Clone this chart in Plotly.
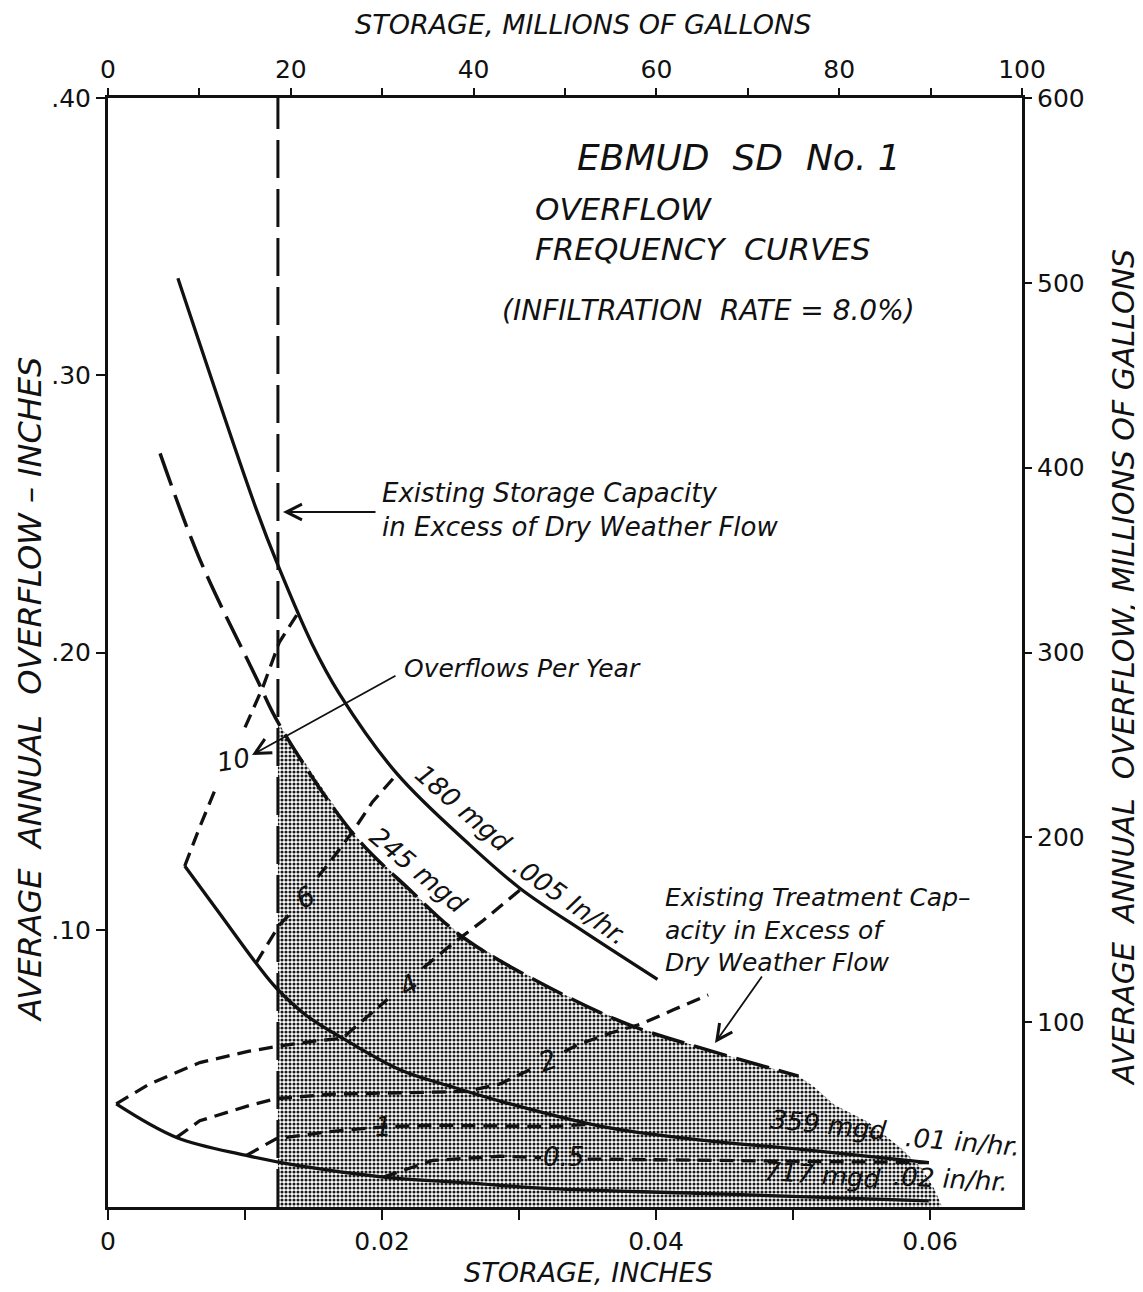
import plotly.graph_objects as go

# ---------------- axis ticks ----------------
x_in_ticks = [0, 0.01, 0.02, 0.03, 0.04, 0.05, 0.06]
x_in_labels = ['0', '', '0.02', '', '0.04', '', '0.06']
x_mg_ticks = [0, 10, 20, 30, 40, 50, 60, 70, 80, 90, 100]
x_mg_labels = ['0', '', '20', '', '40', '', '60', '', '80', '', '100']
y_in_ticks = [0.10, 0.20, 0.30, 0.40]
y_in_labels = ['.10', '.20', '.30', '.40']
y_mg_ticks = [100, 200, 300, 400, 500, 600]
y_mg_labels = ['100', '200', '300', '400', '500', '600']

# ---------------- data (storage in inches, overflow in inches) ----------------
existing_storage = 0.0124

cap_180_x = [0.0051, 0.0108, 0.0124, 0.0149, 0.0169, 0.0211, 0.0264, 0.0301, 0.0347, 0.0401]
cap_180_y = [0.335, 0.252, 0.2315, 0.2030, 0.1850, 0.1562, 0.1306, 0.1148, 0.0994, 0.0821]

cap_245_x = [0.0038, 0.0067, 0.0108, 0.0125, 0.0179, 0.0220, 0.0259, 0.0323, 0.0381, 0.0438, 0.0504]
cap_245_y = [0.2718, 0.2336, 0.1911, 0.1740, 0.1346, 0.1145, 0.0973, 0.0789, 0.0656, 0.0566, 0.0472]

cap_359_x = [0.0056, 0.0082, 0.0108, 0.0123, 0.0145, 0.0171, 0.0213, 0.0250, 0.0286, 0.0359, 0.0433, 0.0506, 0.0599]
cap_359_y = [0.1230, 0.1055, 0.0880, 0.0789, 0.0690, 0.0609, 0.0495, 0.0435, 0.0382, 0.0292, 0.0241, 0.0208, 0.0160]

cap_717_x = [0.0006, 0.0050, 0.0101, 0.0140, 0.0201, 0.0262, 0.0323, 0.0433, 0.0599]
cap_717_y = [0.0372, 0.0251, 0.0186, 0.0148, 0.0108, 0.0087, 0.0066, 0.0049, 0.0022]

# overflows-per-year curves (None = gap left for the hand-lettered label)
freq_10_x = [0.0056, 0.0067, 0.0079, None, 0.0100, 0.0113, 0.0125, 0.0138]
freq_10_y = [0.1230, 0.1371, 0.1515, None, 0.1730, 0.1875, 0.2037, 0.2137]

freq_6_x = [0.0108, 0.0125, 0.0134, None, 0.0153, 0.0160, 0.0179, 0.0193, 0.0211]
freq_6_y = [0.0880, 0.1017, 0.1063, None, 0.1190, 0.1232, 0.1357, 0.1461, 0.1562]

freq_4_x = [0.0006, 0.0030, 0.0067, 0.0103, 0.0123, 0.0152, 0.0171, 0.0204, None, 0.0230, 0.0252, 0.0274, 0.0301]
freq_4_y = [0.0372, 0.0443, 0.0521, 0.0562, 0.0579, 0.0599, 0.0609, 0.0749, None, 0.0862, 0.0952, 0.1034, 0.1145]

freq_2_x = [0.0050, 0.0067, 0.0103, 0.0123, 0.0164, 0.0213, 0.0262, 0.0286, 0.0310, None, 0.0333, 0.0343, 0.0369, 0.0389, 0.0413, 0.0438]
freq_2_y = [0.0251, 0.0311, 0.0366, 0.0391, 0.0407, 0.0412, 0.0417, 0.0444, 0.0500, None, 0.0560, 0.0586, 0.0631, 0.0660, 0.0712, 0.0765]

freq_1_x = [0.0101, 0.0123, 0.0164, 0.0201, 0.0237, 0.0323, 0.0352]
freq_1_y = [0.0186, 0.0247, 0.0273, 0.0289, 0.0295, 0.0290, 0.0298]

freq_05_x = [0.0201, 0.0237, 0.0286, 0.0316, None, 0.0350, 0.0433, 0.0599]
freq_05_y = [0.0108, 0.0168, 0.0183, 0.0178, None, 0.0173, 0.0168, 0.0160]

# shaded zone: beyond existing storage, below the 245 mgd curve
shade_x = [0.0124, 0.0124, 0.0125, 0.0179, 0.0220, 0.0259, 0.0323, 0.0381, 0.0438, 0.0504,
           0.0515, 0.0530, 0.0555, 0.0579, 0.0594, 0.0603, 0.0608, 0.0608]
shade_y = [0.0, 0.1755, 0.1740, 0.1346, 0.1145, 0.0973, 0.0789, 0.0656, 0.0566, 0.0472,
           0.0435, 0.0369, 0.0306, 0.0211, 0.0138, 0.0065, 0.0010, 0.0]

INK = '#111111'
FONT = 'DejaVu Sans'

fig = go.Figure()

fig.add_trace(go.Scatter(
    x=shade_x, y=shade_y, mode='lines', fill='toself',
    line=dict(width=0, color='rgba(0,0,0,0)'),
    fillcolor='rgba(0,0,0,0)',
    fillpattern=dict(shape='.', size=4, solidity=0.48, fgcolor='#1a1a1a', bgcolor='white', fillmode='replace'),
    hoverinfo='skip', showlegend=False))

fig.add_trace(go.Scatter(
    x=[existing_storage, existing_storage], y=[0, y_in_ticks[-1]], mode='lines',
    line=dict(color=INK, width=3, dash='38px,11px'), hoverinfo='skip', showlegend=False))

for xs, ys in [(cap_180_x, cap_180_y), (cap_359_x, cap_359_y), (cap_717_x, cap_717_y)]:
    fig.add_trace(go.Scatter(x=xs, y=ys, mode='lines',
                             line=dict(color=INK, width=3.3, shape='spline', smoothing=1.0),
                             hoverinfo='skip', showlegend=False))

fig.add_trace(go.Scatter(x=cap_245_x, y=cap_245_y, mode='lines',
                         line=dict(color=INK, width=3.5, shape='spline', smoothing=1.0, dash='34px,10px'),
                         hoverinfo='skip', showlegend=False))

for xs, ys in [(freq_10_x, freq_10_y), (freq_6_x, freq_6_y), (freq_4_x, freq_4_y),
               (freq_2_x, freq_2_y), (freq_1_x, freq_1_y), (freq_05_x, freq_05_y)]:
    fig.add_trace(go.Scatter(x=xs, y=ys, mode='lines', connectgaps=False,
                             line=dict(color=INK, width=3.3, dash='14px,8px'),
                             hoverinfo='skip', showlegend=False))

# invisible trace to carry the secondary (top / right) axes
fig.add_trace(go.Scatter(x=x_mg_ticks, y=[y_mg_ticks[0]] * len(x_mg_ticks), xaxis='x2', yaxis='y2',
                         mode='markers', marker=dict(opacity=0), hoverinfo='skip', showlegend=False))

tickfont = dict(family=FONT, size=25, color=INK)
axis_common = dict(showline=True, linewidth=3, linecolor=INK, showgrid=False, zeroline=False,
                   ticks='outside', tickwidth=2, tickcolor=INK, tickfont=tickfont)

# the page adds an 8 px body margin, so the figure is 8 px smaller and margins shifted
fig.update_layout(
    width=1135, height=1284,
    margin=dict(l=100, r=121, t=90, b=85),
    paper_bgcolor='white', plot_bgcolor='white',
    font=dict(family=FONT, color=INK),
    xaxis=dict(range=[0, 0.0667], tickmode='array', tickvals=x_in_ticks, ticktext=x_in_labels,
               ticklen=10, **axis_common),
    xaxis2=dict(range=[0, 100], overlaying='x', side='top', anchor='y', tickmode='array',
                tickvals=x_mg_ticks, ticktext=x_mg_labels, ticklen=7, **axis_common),
    yaxis=dict(range=[0, 0.40], tickmode='array', tickvals=y_in_ticks, ticktext=y_in_labels,
               ticklen=9, **axis_common),
    yaxis2=dict(range=[0, 600], overlaying='y', side='right', anchor='x', tickmode='array',
                tickvals=y_mg_ticks, ticktext=y_mg_labels, ticklen=7, **axis_common),
)

# positions below are page pixels of the reference; plot area spans 108..1022 x 98..1207
W, H, L, B = 914, 1109, 108, 1207
def xp(px):
    return (px - L) / W
def yp(py):
    return (B - py) / H

def note(text, px, py, size=23, angle=0, xanchor='center', yanchor='middle', align='left'):
    fig.add_annotation(text=text, x=xp(px), y=yp(py), xref='paper', yref='paper',
                       showarrow=False, textangle=angle, xanchor=xanchor, yanchor=yanchor,
                       align=align, font=dict(family=FONT, size=size, color=INK))

def arrow(px_tip, py_tip, px_tail, py_tail):
    fig.add_annotation(text='', x=xp(px_tip), y=yp(py_tip), xref='paper', yref='paper',
                       showarrow=True, ax=px_tail - px_tip, ay=py_tail - py_tip,
                       arrowhead=5, arrowsize=1.7, arrowwidth=1.8, arrowcolor=INK)

# axis titles
note('<i>STORAGE, MILLIONS OF GALLONS</i>', 583, 25, size=27)
note('<i>STORAGE, INCHES</i>', 588, 1272, size=27)
note('<i>AVERAGE  ANNUAL  OVERFLOW – INCHES</i>', 30, 690, size=32, angle=-90)
note('<i>AVERAGE  ANNUAL  OVERFLOW, MILLIONS OF GALLONS</i>', 1123, 668, size=30, angle=-90)

# title block
note('<i>EBMUD  SD  No. 1</i>', 575, 157, size=36, xanchor='left')
note('<i>OVERFLOW<br>FREQUENCY  CURVES</i>', 533, 229, size=31, xanchor='left')
note('<i>(INFILTRATION  RATE = 8.0%)</i>', 500, 310, size=28, xanchor='left')

# callouts
note('<i>Existing Storage Capacity<br>in Excess of Dry Weather Flow</i>', 380, 510, size=26, xanchor='left')
arrow(283, 512, 377, 512)

note('<i>Overflows Per Year</i>', 402, 668, size=25, xanchor='left')
arrow(252, 755, 397, 675)

note('<i>Existing Treatment Cap–<br>acity in Excess of<br>Dry Weather Flow</i>', 663, 930, size=25, xanchor='left')
arrow(715, 1043, 763, 975)

# curve labels
note('<i>180 mgd</i>', 463, 808, size=26, angle=41)
note('<i>.005 In/hr.</i>', 570, 901, size=26, angle=35)
note('<i>245 mgd</i>', 418, 870, size=26, angle=40)
note('<i>359 mgd</i>', 828, 1125, size=26, angle=6)
note('<i>.01 in/hr.</i>', 962, 1142, size=26, angle=5)
note('<i>717 mgd</i>', 822, 1175, size=26, angle=4)
note('<i>.02 in/hr.</i>', 950, 1179, size=26, angle=3)

# frequency labels
note('<i>10</i>', 233, 760, size=26, angle=-10)
note('<i>6</i>', 305, 898, size=27, angle=-30)
note('<i>4</i>', 408, 985, size=27, angle=-30)
note('<i>2</i>', 547, 1060, size=27, angle=-20)
note('<i>1</i>', 383, 1127, size=26)
note('<i>0.5</i>', 563, 1157, size=26)

fig.write_html('out.html')
